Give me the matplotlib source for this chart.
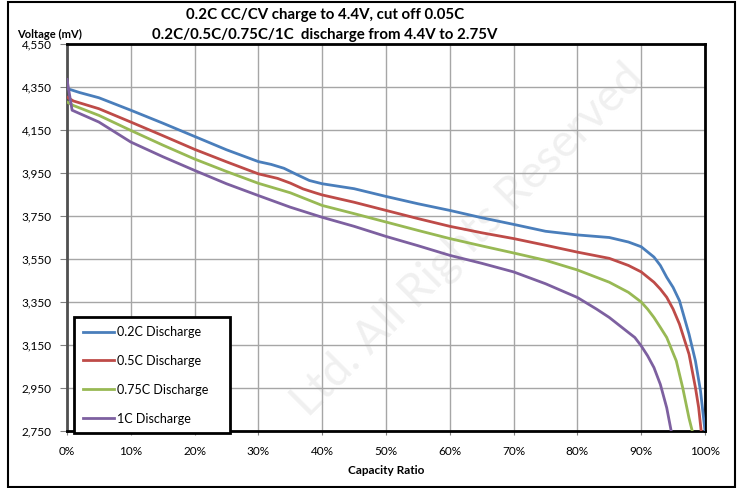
import matplotlib
matplotlib.use("Agg")
import matplotlib.pyplot as plt
from matplotlib.patches import Rectangle
from matplotlib.ticker import FuncFormatter, FixedLocator, MultipleLocator

plt.rcParams['font.family'] = ['Lato', 'DejaVu Sans']

# ---- data (capacity ratio in %, voltage in mV) ----
x_02c = [0, 2, 5, 10, 15, 20, 25, 30, 32, 34, 36, 38, 40, 45, 50, 55, 60, 65, 70, 75, 80,
         85, 88, 90, 92, 93, 94, 95, 96, 97.5, 98.5, 99.3, 100]
y_02c = [4343, 4324, 4300, 4242, 4182, 4120, 4058, 4003, 3990, 3972, 3943, 3915, 3900, 3877,
         3841, 3807, 3776, 3742, 3711, 3679, 3662, 3650, 3629, 3607, 3559, 3520, 3465, 3418,
         3356, 3200, 3076, 2936, 2750]

x_05c = [0, 1, 5, 10, 15, 20, 25, 30, 33, 35, 37, 39, 40, 45, 50, 55, 60, 65, 70, 75, 80,
         85, 88, 90, 92, 93, 94, 95, 96, 97.5, 98.5, 99.0, 99.4]
y_05c = [4303, 4285, 4249, 4187, 4124, 4060, 4002, 3946, 3925, 3903, 3876, 3857, 3848, 3814,
         3776, 3738, 3702, 3672, 3645, 3614, 3582, 3553, 3520, 3490, 3442, 3410, 3372, 3317,
         3247, 3107, 2952, 2860, 2750]

x_075c = [0, 1, 5, 10, 15, 20, 25, 30, 35, 40, 45, 50, 55, 60, 65, 70, 75, 80, 85, 88, 90,
          91, 92, 93, 94, 95.5, 96.5, 97.5, 98.0]
y_075c = [4280, 4264, 4218, 4148, 4080, 4015, 3957, 3902, 3858, 3799, 3761, 3722, 3683, 3645,
          3611, 3578, 3544, 3499, 3442, 3395, 3350, 3317, 3278, 3232, 3185, 3076, 2952, 2809,
          2750]

x_1c = [0, 0.8, 5, 10, 15, 20, 25, 30, 35, 40, 45, 50, 55, 60, 65, 70, 75, 80, 83, 85, 88,
        89, 90, 91, 92, 93, 94, 94.7]
y_1c = [4385, 4242, 4187, 4094, 4026, 3962, 3900, 3845, 3791, 3744, 3702, 3655, 3612, 3567,
        3530, 3490, 3435, 3371, 3317, 3278, 3208, 3185, 3146, 3100, 3045, 2967, 2858, 2750]

y_ticks = [2750, 2950, 3150, 3350, 3550, 3750, 3950, 4150, 4350, 4550]

series_labels = ["0.2C Discharge", "0.5C Discharge", "0.75C Discharge", "1C Discharge"]
series_colors = ["#4A7EBB", "#BE4B48", "#98B954", "#7D60A0"]

title_line1 = "0.2C CC/CV charge to 4.4V, cut off 0.05C"
title_line2 = "0.2C/0.5C/0.75C/1C  discharge from 4.4V to 2.75V"
y_label = "Voltage (mV)"
x_label = "Capacity Ratio"
watermark = "Ltd. All Rights Reserved"

# ---- figure ----
W, H = 739, 488
fig = plt.figure(figsize=(W / 100, H / 100), dpi=100)
ax = fig.add_axes([67 / W, 1 - 431 / H, 638 / W, 387 / H])

for xs, ys, lab, col in zip([x_02c, x_05c, x_075c, x_1c], [y_02c, y_05c, y_075c, y_1c],
                            series_labels, series_colors):
    ax.plot(xs, ys, color=col, lw=2.0, label=lab, solid_joinstyle='round', zorder=3)

ax.set_xlim(0, 100)
ax.set_ylim(y_ticks[0], y_ticks[-1])
ax.xaxis.set_major_locator(MultipleLocator(10))
ax.yaxis.set_major_locator(FixedLocator(y_ticks))
ax.xaxis.set_major_formatter(FuncFormatter(lambda v, p: f"{int(round(v))}%"))
ax.yaxis.set_major_formatter(FuncFormatter(lambda v, p: f"{int(round(v)):,}"))
ax.grid(True, color="#A6A6A6", lw=1.0)
ax.set_axisbelow(True)
ax.tick_params(axis='both', labelsize=8.5, width=0.8, color="#808080")
ax.tick_params(axis='y', length=5, pad=6)
ax.tick_params(axis='x', length=3, pad=8)

for side in ['top', 'right', 'bottom']:
    ax.spines[side].set_color('black')
    ax.spines[side].set_linewidth(2.0)
ax.spines['left'].set_color('#505050')
ax.spines['left'].set_linewidth(2.0)

leg = ax.legend(loc='lower left', bbox_to_anchor=(0.011, -0.006, 0.245, 0.29),
                mode='expand', fontsize=9, frameon=True, fancybox=False, framealpha=1,
                edgecolor='black', handlelength=2.5, handletextpad=0.2, labelspacing=1.35,
                borderpad=0.7, borderaxespad=0)
leg.get_frame().set_linewidth(2.0)
leg.set_zorder(5)

# watermark (faint, kept fully inside the figure)
ax.text(468, 248, watermark, transform=None, rotation=45,
        fontsize=33, color="#F0F0F0", ha='center', va='center', zorder=0.5,
        clip_on=False)

# texts
fig.text(325 / W, 1 - 15 / H, title_line1, ha='center', va='center', fontsize=10.8,
         fontweight='bold')
fig.text(325 / W, 1 - 35 / H, title_line2, ha='center', va='center', fontsize=10.8,
         fontweight='bold')
fig.text(17 / W, 1 - 34 / H, y_label, ha='left', va='center', fontsize=8,
         fontweight='bold')
fig.text(386 / W, 1 - 470 / H, x_label, ha='center', va='center', fontsize=8.5,
         fontweight='bold')

# outer frame
fig.patches.append(Rectangle((8 / W, 1 / H), (735 - 8) / W, (486 - 1) / H,
                             transform=fig.transFigure, fill=False, edgecolor='black',
                             lw=1.5))

fig.savefig("out.png", dpi=100)
